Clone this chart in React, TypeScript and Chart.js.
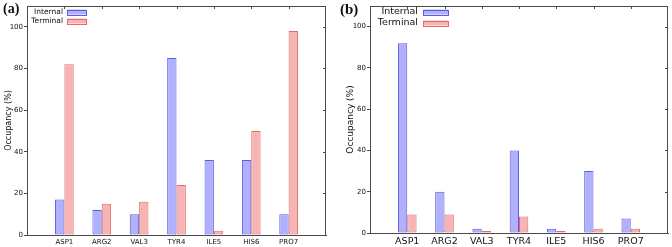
import React, { useEffect, useRef } from "react";
import { Chart, registerables } from "chart.js";

Chart.register(...registerables);

// ---- data ----
const residues = ["ASP1", "ARG2", "VAL3", "TYR4", "ILE5", "HIS6", "PRO7"];
const seriesNames = ["Internal", "Terminal"];
const internalA = [17, 12, 10, 85, 36, 36, 10];
const terminalA = [82, 15, 16, 24, 2, 50, 98];
const internalB = [92, 20, 2, 40, 2, 30, 7];
const terminalB = [9, 9, 1, 8, 1, 2, 2];
const yTicks = [0, 20, 40, 60, 80, 100];
const yTitle = "Occupancy (%)";

// ---- styles ----
const AXIS = "#4a4a4a";
const TEXT = "#111";
const FONT = "'DejaVu Sans', Verdana, sans-serif";
const INT_FILL = "#b1b1fb";
const INT_LINE = "#5c5cea";
const TER_FILL = "#f6b4b4";
const TER_LINE = "#e46a6a";

const framePlugin = {
  id: "frame",
  afterDatasetsDraw(chart: any) {
    const { ctx, chartArea: a, scales } = chart;
    ctx.save();
    ctx.strokeStyle = AXIS;
    ctx.lineWidth = 1;
    ctx.beginPath();
    ctx.moveTo(a.left, a.top + 0.5);
    ctx.lineTo(a.right, a.top + 0.5);
    ctx.moveTo(a.right - 0.5, a.top);
    ctx.lineTo(a.right - 0.5, a.bottom);
    for (let i = 1; i <= residues.length; i++) {
      const x = Math.round(scales.x.getPixelForValue(i)) + 0.5;
      ctx.moveTo(x, a.top);
      ctx.lineTo(x, a.top + 3);
    }
    for (const v of yTicks) {
      const y = Math.round(scales.y.getPixelForValue(v)) + 0.5;
      ctx.moveTo(a.right, y);
      ctx.lineTo(a.right - 3, y);
    }
    ctx.stroke();
    ctx.restore();
  },
};

const legendPlugin = {
  id: "boxLegend",
  afterDraw(chart: any, _args: any, opts: any) {
    const { ctx } = chart;
    ctx.save();
    ctx.font = `${opts.fontSize}px ${FONT}`;
    ctx.textAlign = "right";
    ctx.textBaseline = "middle";
    chart.data.datasets.forEach((ds: any, i: number) => {
      const yc = opts.rows[i];
      ctx.fillStyle = TEXT;
      ctx.fillText(ds.label, opts.textRight, yc);
      ctx.fillStyle = ds.backgroundColor;
      ctx.fillRect(opts.boxX, yc - opts.boxH / 2, opts.boxW, opts.boxH);
      ctx.strokeStyle = ds.borderColor;
      ctx.lineWidth = 1;
      ctx.strokeRect(opts.boxX + 0.5, Math.round(yc - opts.boxH / 2) + 0.5, opts.boxW, opts.boxH);
    });
    ctx.restore();
  },
};

type PanelSpec = {
  internal: number[];
  terminal: number[];
  yAxisWidth: number;
  xAxisHeight: number;
  padRight: number;
  padTop: number;
  yTickFont: number;
  xTickFont: number;
  titleFont: number;
  titlePad: number;
  xPad: number;
  legend: any;
};

function Panel({ spec }: { spec: PanelSpec }) {
  const ref = useRef<HTMLCanvasElement>(null);
  useEffect(() => {
    const labels = ["", ...residues, ""];
    const chart = new Chart(ref.current!, {
      type: "bar",
      data: {
        labels,
        datasets: [
          {
            label: seriesNames[0],
            data: [null, ...spec.internal, null] as any,
            backgroundColor: INT_FILL,
            borderColor: INT_LINE,
            borderWidth: 1,
            borderSkipped: false,
          },
          {
            label: seriesNames[1],
            data: [null, ...spec.terminal, null] as any,
            backgroundColor: TER_FILL,
            borderColor: TER_LINE,
            borderWidth: 1,
            borderSkipped: false,
          },
        ],
      },
      options: {
        animation: false,
        responsive: false,
        maintainAspectRatio: false,
        layout: { padding: { left: 0, right: spec.padRight, top: spec.padTop, bottom: 0 } },
        datasets: { bar: { categoryPercentage: 0.5, barPercentage: 1 } } as any,
        plugins: {
          legend: { display: false },
          tooltip: { enabled: false },
          boxLegend: spec.legend,
        } as any,
        scales: {
          x: {
            type: "category",
            offset: false,
            grid: { display: true, drawOnChartArea: false, drawTicks: false },
            border: { display: true, color: AXIS, width: 1 },
            ticks: {
              autoSkip: false,
              maxRotation: 0,
              color: TEXT,
              padding: spec.xPad,
              font: { family: FONT, size: spec.xTickFont },
            },
            afterFit: (s: any) => {
              s.height = spec.xAxisHeight;
            },
          },
          y: {
            min: 0,
            max: 110,
            ticks: {
              stepSize: 20,
              color: TEXT,
              padding: 1,
              font: { family: FONT, size: spec.yTickFont },
            },
            afterBuildTicks: (s: any) => {
              s.ticks = s.ticks.filter((t: any) => yTicks.includes(t.value));
            },
            grid: { display: true, drawOnChartArea: false, drawTicks: true, tickLength: 3, color: AXIS },
            border: { display: true, color: AXIS, width: 1 },
            title: {
              display: true,
              text: yTitle,
              color: TEXT,
              padding: { top: spec.titlePad, bottom: 0 },
              font: { family: FONT, size: spec.titleFont },
            },
            afterFit: (s: any) => {
              s.width = spec.yAxisWidth;
            },
          },
        },
      },
      plugins: [framePlugin, legendPlugin],
    });
    return () => chart.destroy();
  }, [spec]);
  return <canvas ref={ref} width={336} height={247} style={{ display: "block" }} />;
}

const specA: PanelSpec = {
  internal: internalA,
  terminal: terminalA,
  yAxisWidth: 27,
  xAxisHeight: 12,
  padRight: 10,
  padTop: 6,
  yTickFont: 7,
  xTickFont: 7,
  titleFont: 8,
  titlePad: 4,
  xPad: 3,
  legend: { fontSize: 7.5, textRight: 63, boxX: 67, boxW: 19, boxH: 5, rows: [12, 21] },
};

const specB: PanelSpec = {
  internal: internalB,
  terminal: terminalB,
  yAxisWidth: 34,
  xAxisHeight: 14,
  padRight: 4,
  padTop: 6,
  yTickFont: 7,
  xTickFont: 9.5,
  titleFont: 9,
  titlePad: 9,
  xPad: 3,
  legend: { fontSize: 9.5, textRight: 82, boxX: 87, boxW: 25, boxH: 5, rows: [12, 23] },
};

export default function App() {
  return (
    <div
      style={{
        position: "fixed",
        left: 0,
        top: 0,
        width: 672,
        height: 247,
        background: "#fff",
        overflow: "hidden",
      }}
    >
      <div style={{ position: "absolute", left: 0, top: 0, width: 336, height: 247 }}>
        <Panel spec={specA} />
      </div>
      <div style={{ position: "absolute", left: 336, top: 0, width: 336, height: 247 }}>
        <Panel spec={specB} />
      </div>
      <div
        style={{
          position: "absolute",
          left: 3,
          top: 1,
          font: "bold 14px 'Liberation Serif', 'Times New Roman', serif",
          color: "#111",
        }}
      >
        (a)
      </div>
      <div
        style={{
          position: "absolute",
          left: 340,
          top: 1,
          font: "bold 15px 'Liberation Serif', 'Times New Roman', serif",
          color: "#111",
        }}
      >
        (b)
      </div>
    </div>
  );
}
